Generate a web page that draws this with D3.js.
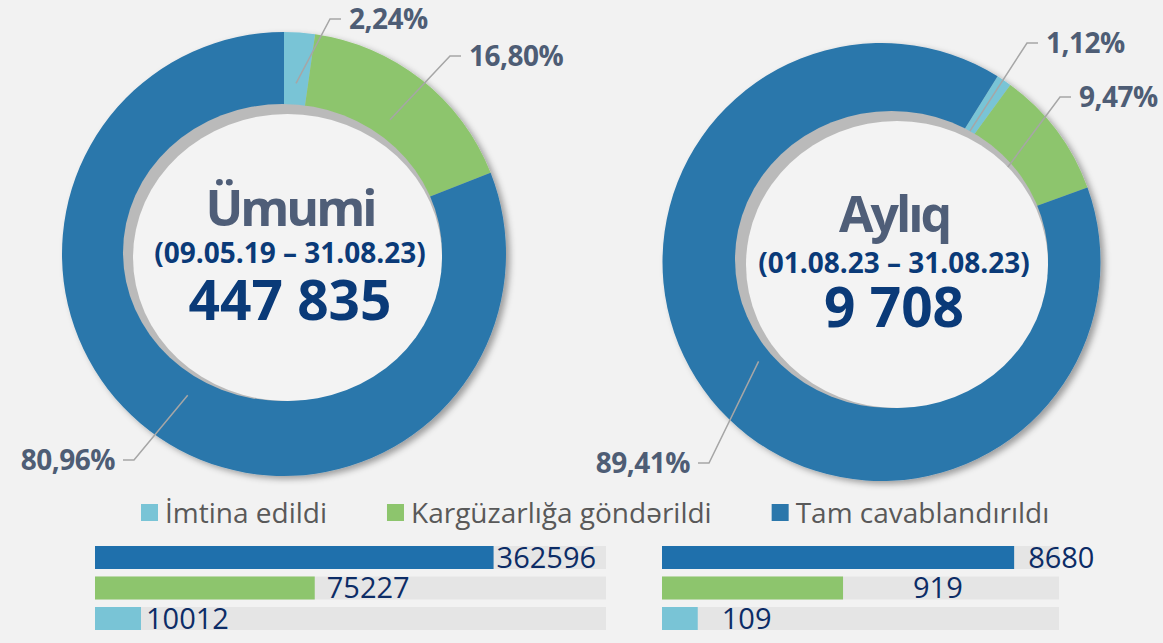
<!DOCTYPE html>
<html>
<head>
<meta charset="utf-8">
<script src="https://d3js.org/d3.v7.min.js"></script>
<style>
  body { margin: 0; background: #f2f2f2; }
  svg { display: block; font-family: "Open Sans", sans-serif; }
</style>
</head>
<body>
<svg id="chart" width="1163" height="643"></svg>
<script>
// data
var categories = ["İmtina edildi", "Kargüzarlığa göndərildi", "Tam cavablandırıldı"];
var colors = ["#79c4d6", "#8dc56d", "#2b77ab"];
var barColors = ["#79c4d6", "#8dc56d", "#1f70ac"];

var totalPct = [2.24, 16.80, 80.96];
var monthPct = [1.12, 9.47, 89.41];
var totalCounts = [10012, 75227, 362596];
var monthCounts = [109, 919, 8680];
// how far each bar fills its grey track (not proportional to the counts)
var totalFill = [0.09, 0.43, 0.78];
var monthFill = [0.09, 0.456, 0.887];

var titles = ["Ümumi", "Aylıq"];
var periods = ["(09.05.19 – 31.08.23)", "(01.08.23 – 31.08.23)"];

var svg = d3.select("#chart");
var az = d3.formatLocale({decimal: ",", thousands: " ", grouping: [3], currency: ["", ""]});
var pctFmt = function(v) { return az.format(".2f")(v) + "%"; };
var numFmt = az.format(",d");

var defs = svg.append("defs");
defs.append("filter").attr("id", "shadow")
  .attr("x", "-10%").attr("y", "-10%").attr("width", "120%").attr("height", "120%")
  .append("feDropShadow")
  .attr("dx", 4).attr("dy", 3).attr("stdDeviation", 3)
  .attr("flood-color", "#000").attr("flood-opacity", 0.35);

// layout for the two donuts
var donuts = [
  {pct: totalPct, total: d3.sum(totalCounts), cx: 284, cy: 254, r: 222, start: 0, leadR: 171,
   hole: {cx: 282.5, cy: 252.5, rx: 159.5, ry: 148.5, dx: 5, dy: 5, shrinkX: 5, shrinkY: 5},
   text: {x: 290, t: 226, p: 263, n: 320},
   elbows: [[330, 19, 1], [450, 56, 1], [134, 460, -1]]},
  {pct: monthPct, total: d3.sum(monthCounts), cx: 881.5, cy: 262, r: 219, start: 32 * Math.PI / 180, leadR: 158,
   hole: {cx: 891.5, cy: 259.5, rx: 156.5, ry: 148.5, dx: 5.5, dy: 5, shrinkX: 5.5, shrinkY: 5},
   text: {x: 894, t: 232, p: 273, n: 327},
   elbows: [[1027, 43, 1], [1060, 97, 1], [709, 463, -1]]}
];

donuts.forEach(function(dn, k) {
  var pie = d3.pie().sort(null).value(function(d) { return d; })
    .startAngle(dn.start).endAngle(dn.start + 2 * Math.PI);
  var arcs = pie(dn.pct);
  var arc = d3.arc().innerRadius(140).outerRadius(dn.r);
  var g = svg.append("g").attr("transform", "translate(" + dn.cx + "," + dn.cy + ")");

  g.append("g").attr("filter", "url(#shadow)")
    .selectAll("path").data(arcs).join("path")
    .attr("d", arc)
    .attr("fill", function(d, i) { return colors[i]; });

  // bevelled centre disc
  var h = dn.hole;
  svg.append("ellipse").attr("cx", h.cx).attr("cy", h.cy).attr("rx", h.rx).attr("ry", h.ry)
    .attr("fill", "#bababa");
  svg.append("ellipse").attr("cx", h.cx + h.dx).attr("cy", h.cy + h.dy)
    .attr("rx", h.rx - h.shrinkX).attr("ry", h.ry - h.shrinkY)
    .attr("fill", "#f3f3f3");

  // leader lines + percent labels
  arcs.forEach(function(a, i) {
    var mid = (a.startAngle + a.endAngle) / 2;
    var sx = dn.cx + dn.leadR * Math.sin(mid);
    var sy = dn.cy - dn.leadR * Math.cos(mid);
    var e = dn.elbows[i];
    var ex2 = e[0] + e[2] * 11;
    svg.append("polyline")
      .attr("points", [[sx, sy], [e[0], e[1]], [ex2, e[1]]].map(function(p) { return p.join(","); }).join(" "))
      .attr("fill", "none").attr("stroke", "#a6a6a6").attr("stroke-width", 1.5);
    svg.append("text")
      .attr("x", ex2 + e[2] * 8).attr("y", e[1] + 10)
      .attr("text-anchor", e[2] > 0 ? "start" : "end")
      .attr("font-size", 28).attr("font-weight", 700).attr("letter-spacing", -0.5)
      .attr("fill", "#4e5d75")
      .text(pctFmt(a.data));
  });

  // centre text
  svg.append("text").attr("x", dn.text.x).attr("y", dn.text.t)
    .attr("text-anchor", "middle").attr("font-size", 50).attr("font-weight", 700)
    .attr("letter-spacing", -3).attr("fill", "#4f5e78").text(titles[k]);
  svg.append("text").attr("x", dn.text.x).attr("y", dn.text.p)
    .attr("text-anchor", "middle").attr("font-size", 28).attr("font-weight", 700)
    .attr("letter-spacing", 0).attr("fill", "#0a3a78").text(periods[k]);
  svg.append("text").attr("x", dn.text.x).attr("y", dn.text.n)
    .attr("text-anchor", "middle").attr("font-size", 55).attr("font-weight", 700)
    .attr("fill", "#0a3a78").text(numFmt(dn.total));
});

// legend
var legend = svg.append("g");
var lx = 141;
categories.forEach(function(c, i) {
  legend.append("rect").attr("x", lx).attr("y", 504).attr("width", 17).attr("height", 17)
    .attr("fill", colors[i]);
  var t = legend.append("text").attr("x", lx + 24).attr("y", 523)
    .attr("font-size", 28).attr("fill", "#595959").text(c);
  lx += 24 + t.node().getComputedTextLength() + 60;
});

// bars under each donut
var barSets = [
  {fill: totalFill, counts: totalCounts, x0: 95, x1: 606, pad: [5, 12, 3]},
  {fill: monthFill, counts: monthCounts, x0: 662, x1: 1059, pad: [24, 70, 14]}
];
var rowOrder = [2, 1, 0];
var y = d3.scaleBand().domain(rowOrder).range([546, 630]).paddingInner(0.246);

barSets.forEach(function(bs) {
  var x = d3.scaleLinear().domain([0, 1]).range([bs.x0, bs.x1]);
  var g = svg.append("g");
  g.selectAll("rect.track").data(rowOrder).join("rect").attr("class", "track")
    .attr("x", x(0)).attr("y", function(i) { return y(i); })
    .attr("width", x(1) - x(0)).attr("height", y.bandwidth())
    .attr("fill", "#e5e5e5");
  g.selectAll("rect.bar").data(rowOrder).join("rect").attr("class", "bar")
    .attr("x", x(0)).attr("y", function(i) { return y(i); })
    .attr("width", function(i) { return x(bs.fill[i]) - x(0); })
    .attr("height", y.bandwidth())
    .attr("fill", function(i) { return barColors[i]; });
  g.selectAll("text").data(rowOrder).join("text")
    .attr("x", function(i) { return x(bs.fill[i]) + bs.pad[i]; })
    .attr("y", function(i) { return y(i) + y.bandwidth() - 1; })
    .attr("font-size", 29).attr("fill", "#0c2c66")
    .text(function(i) { return bs.counts[i]; });
});
</script>
</body>
</html>
